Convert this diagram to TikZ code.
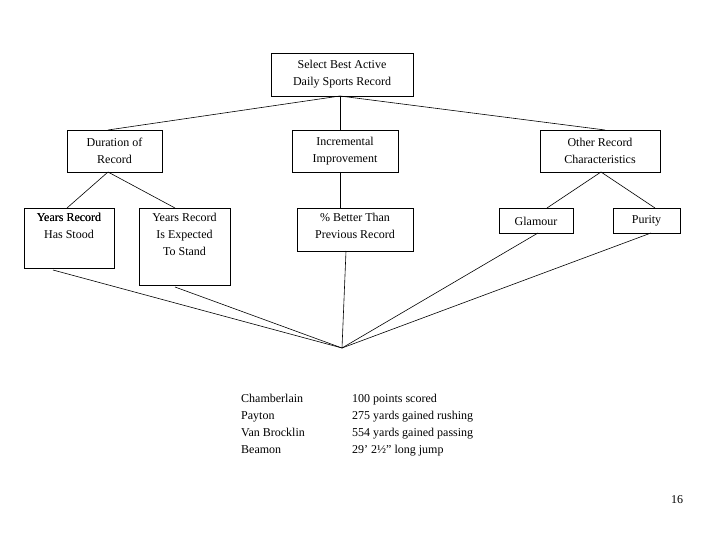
\documentclass[tikz,border=0pt]{standalone}
\usepackage{fontspec}
\setmainfont{Liberation Serif}
\begin{document}
\begin{tikzpicture}[x=1pt,y=-1pt,
  bx/.style={draw,line width=0.6pt,inner sep=0pt,align=center,font=\fontsize{12}{17}\selectfont},
  ln/.style={line width=0.6pt},
  tx/.style={inner sep=0pt,anchor=north west,align=left,font=\fontsize{12}{17}\selectfont}]
\useasboundingbox (0,0) rectangle (720,540);
\def\B#1#2#3#4#5#6{\node[bx,minimum width=#4-#2,minimum height=#5-#3] (#1) at ({(#2+#4)/2},{(#3+#5)/2}) {#6};}
\B{top}{271}{53}{413}{96}{Select Best Active\\Daily Sports Record}
\B{dur}{67}{130}{162}{172}{Duration of\\Record}
\B{inc}{292}{130}{398}{172}{Incremental\\Improvement}
\B{oth}{540}{130}{660}{172}{Other Record\\Characteristics}
\node[bx,minimum width=90,minimum height=60,anchor=north west] (ys) at (24,208) {};
\node[tx,anchor=north] at (69,213) {\makebox[0pt]{Years Record}\\[-0pt]};
\node[bx,minimum width=91,minimum height=77,anchor=north west] (ye) at (139,208) {};
\node[bx,minimum width=116,minimum height=43,anchor=north west] (pb) at (297,208) {};
\node[bx,minimum width=74,minimum height=25,anchor=north west] (gl) at (499,208) {};
\node[bx,minimum width=67,minimum height=25,anchor=north west] (pu) at (613,208) {};
\node[inner sep=0pt,align=center,anchor=north,font=\fontsize{12}{17}\selectfont] at (69,213) {\phantom{X}};
\node[inner sep=0pt,align=center,anchor=north,font=\fontsize{12}{17}\selectfont] (t1) at (69,213) {Years Record\\Has Stood};
\node[inner sep=0pt,align=center,anchor=north,font=\fontsize{12}{17}\selectfont] (t2) at (184.5,213) {Years Record\\Is Expected\\To Stand};
\node[inner sep=0pt,align=center,anchor=north,font=\fontsize{12}{17}\selectfont] (t3) at (355,213) {\% Better Than\\Previous Record};
\node[inner sep=0pt,align=center,font=\fontsize{12}{17}\selectfont] (t4) at (536,221) {Glamour};
\node[inner sep=0pt,align=center,font=\fontsize{12}{17}\selectfont] (t5) at (646.5,221) {Purity};
\coordinate (c) at (342,348);
\draw[ln] (340,96) -- (108,130);
\draw[ln] (340,96) -- (340,130);
\draw[ln] (340,96) -- (605,130);
\draw[ln] (108,172) -- (67,208);
\draw[ln] (108,172) -- (175,208);
\draw[ln] (340,172) -- (340,208);
\draw[ln] (601,172) -- (547,208);
\draw[ln] (601,172) -- (655,208);
\draw[ln] (53,270) -- (c);
\draw[ln] (175,287) -- (c);
\draw[ln] (346,251) -- (c);
\draw[ln] (538,233) -- (c);
\draw[ln] (651,233) -- (c);
\node[tx] (n) at (241,394) {Chamberlain\\Payton\\Van Brocklin\\Beamon};
\node[tx] (v) at (352,394) {100 points scored\\275 yards gained rushing\\554 yards gained passing\\29’ 2½” long jump};
\node[inner sep=0pt,font=\fontsize{12}{14}\selectfont] (pg) at (677,500) {16};
\end{tikzpicture}
\end{document}
